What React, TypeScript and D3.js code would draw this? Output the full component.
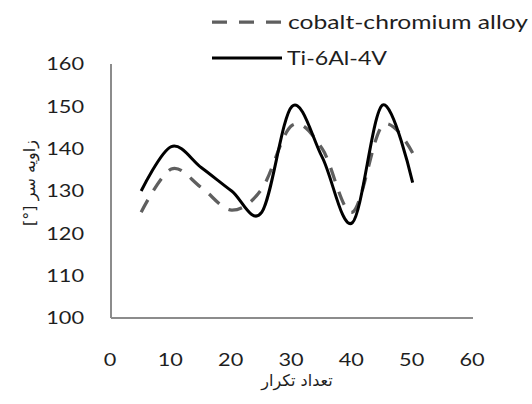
import React, { useEffect, useRef } from "react";
import * as d3 from "d3";

const xValues = [5, 10, 15, 20, 25, 30, 35, 40, 45, 50];
const tiValues = [130, 140.5, 135.5, 130, 125, 150, 138, 122.5, 150.3, 132];
const coValues = [125, 135.2, 130.8, 125.5, 130.5, 145.5, 140, 125, 145.5, 139];
const xTicks = [0, 10, 20, 30, 40, 50, 60];
const yTicks = [100, 110, 120, 130, 140, 150, 160];
const seriesNames = ["cobalt-chromium alloy", "Ti-6Al-4V"];
const xTitle = "تعداد تکرار";
const yTitle = "زاویه سر [°]";

export default function App() {
  const ref = useRef<SVGSVGElement>(null);
  useEffect(() => {
    const svg = d3.select(ref.current);
    svg.selectAll("*").remove();
    const x = d3.scaleLinear().domain([0, 60]).range([111, 473]);
    const y = d3.scaleLinear().domain([100, 160]).range([318, 64]);
    const font = "Lato, 'Open Sans', sans-serif";
    const textColor = "#1e1e1e";
    svg.append("rect").attr("width", 532).attr("height", 404).attr("fill", "#ffffff");

    // axes lines
    svg.append("line").attr("x1", x(0)).attr("x2", x(0)).attr("y1", y(160)).attr("y2", y(100))
      .attr("stroke", "#8c8c8c").attr("stroke-width", 2);
    svg.append("line").attr("x1", x(0)).attr("x2", x(60)).attr("y1", y(100)).attr("y2", y(100))
      .attr("stroke", "#8c8c8c").attr("stroke-width", 2);

    // tick labels
    svg.append("g").selectAll("text").data(yTicks).join("text")
      .attr("x", 84).attr("y", (d) => y(d)).attr("dy", "0.36em")
      .attr("text-anchor", "end").attr("font-family", font).attr("font-size", 18)
      .attr("fill", textColor).attr("textLength", (d) => String(d).length * 12.6)
      .attr("lengthAdjust", "spacingAndGlyphs").text((d) => d);
    svg.append("g").selectAll("text").data(xTicks).join("text")
      .attr("x", (d) => x(d) - 1).attr("y", 366)
      .attr("text-anchor", "middle").attr("font-family", font).attr("font-size", 18)
      .attr("fill", textColor).attr("textLength", (d) => String(d).length * 12.6)
      .attr("lengthAdjust", "spacingAndGlyphs").text((d) => d);

    // lines
    const line = d3.line<number>().x((_, i) => x(xValues[i])).y((d) => y(d)).curve(d3.curveCardinal.tension(0));
    svg.append("path").attr("d", line(coValues)).attr("fill", "none")
      .attr("stroke", "#5f5f5f").attr("stroke-width", 3.25).attr("stroke-dasharray", "14 11");
    svg.append("path").attr("d", line(tiValues)).attr("fill", "none")
      .attr("stroke", "#000").attr("stroke-width", 3);

    // legend
    svg.append("line").attr("x1", 212).attr("x2", 281).attr("y1", 22).attr("y2", 22)
      .attr("stroke", "#5f5f5f").attr("stroke-width", 3.25).attr("stroke-dasharray", "15 12");
    svg.append("line").attr("x1", 212).attr("x2", 282).attr("y1", 58).attr("y2", 58)
      .attr("stroke", "#000").attr("stroke-width", 3);
    svg.append("text").attr("x", 288).attr("y", 29).attr("font-family", font).attr("font-size", 19)
      .attr("fill", textColor).attr("textLength", 240).attr("lengthAdjust", "spacingAndGlyphs").text(seriesNames[0]);
    svg.append("text").attr("x", 287).attr("y", 65).attr("font-family", font).attr("font-size", 19)
      .attr("fill", textColor).attr("textLength", 100).attr("lengthAdjust", "spacingAndGlyphs").text(seriesNames[1]);

    // titles
    svg.append("text").attr("x", 297).attr("y", 386).attr("text-anchor", "middle")
      .attr("font-family", "'DejaVu Sans', sans-serif").attr("font-size", 16).attr("fill", textColor)
      .attr("direction", "rtl").text(xTitle);
    svg.append("text").attr("transform", "translate(35,183) rotate(-90)").attr("text-anchor", "middle")
      .attr("font-family", "'DejaVu Sans', sans-serif").attr("font-size", 16).attr("fill", textColor)
      .attr("direction", "rtl").text(yTitle);
  }, []);
  return (
    <svg ref={ref} width={532} height={404} style={{ position: "absolute", left: 0, top: 0 }} />
  );
}
